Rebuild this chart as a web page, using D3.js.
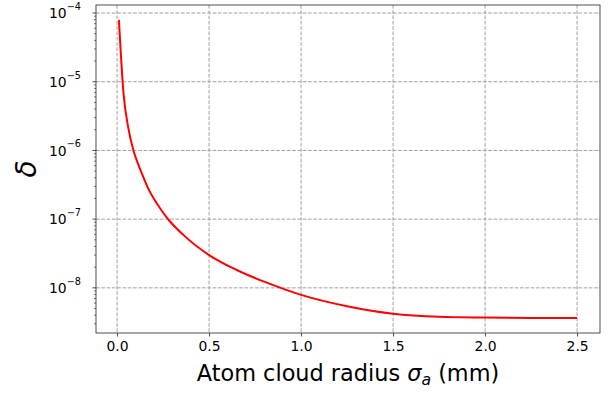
<!DOCTYPE html>
<html>
<head>
<meta charset="utf-8">
<script src="https://cdn.jsdelivr.net/npm/d3@7"></script>
<style>
  body { margin: 0; background: #fff; }
  text { font-family: "DejaVu Sans", sans-serif; fill: #000; }
</style>
</head>
<body>
<div id="chart"></div>
<script>
// curve: atom cloud radius (mm) vs delta
let sigma = [0.01, 0.035, 0.06, 0.089, 0.11, 0.138, 0.165, 0.2, 0.24, 0.28, 0.36, 0.5, 0.65, 0.8, 1.0, 1.25, 1.5, 1.75, 2.0, 2.25, 2.5];
let delta = [7.94e-5, 6.8e-6, 2.2e-6, 1.0e-6, 6.8e-7, 4.4e-7, 2.95e-7, 1.98e-7, 1.36e-7, 9.8e-8, 5.9e-8, 3.0e-8, 1.82e-8, 1.23e-8, 7.9e-9, 5.4e-9, 4.2e-9, 3.8e-9, 3.7e-9, 3.65e-9, 3.63e-9];
let xTicks = [0, 0.5, 1.0, 1.5, 2.0, 2.5];
let yExponents = [-8, -7, -6, -5, -4];

let W = 611, H = 393;
let margin = {top: 5, right: 11, bottom: 60, left: 96};
let width = W - margin.left - margin.right;
let height = H - margin.top - margin.bottom;

let svg = d3.select('#chart').append('svg')
  .attr('width', W).attr('height', H);
let g = svg.append('g')
  .attr('transform', `translate(${margin.left},${margin.top})`);

// matplotlib-like 5% margins
let xr = d3.extent(sigma), xpad = (xr[1] - xr[0]) * 0.05;
let x = d3.scaleLinear().domain([xr[0] - xpad, xr[1] + xpad]).range([0, width]);
let lr = d3.extent(delta).map(Math.log10), lpad = (lr[1] - lr[0]) * 0.05;
let y = d3.scaleLog().domain([Math.pow(10, lr[0] - lpad), Math.pow(10, lr[1] + lpad)]).range([height, 0]);

let gridColor = '#a0a0a0';
// grid
g.selectAll('.gx').data(xTicks).enter().append('line')
  .attr('x1', d => x(d)).attr('x2', d => x(d))
  .attr('y1', 0).attr('y2', height)
  .attr('stroke', gridColor).attr('stroke-width', 1).attr('stroke-dasharray', '3.7,1.6');
g.selectAll('.gy').data(yExponents).enter().append('line')
  .attr('x1', 0).attr('x2', width)
  .attr('y1', d => y(Math.pow(10, d))).attr('y2', d => y(Math.pow(10, d)))
  .attr('stroke', gridColor).attr('stroke-width', 1).attr('stroke-dasharray', '3.7,1.6');

// curve
let pts = sigma.map((s, i) => [s, delta[i]]);
let line = d3.line().x(d => x(d[0])).y(d => y(d[1])).curve(d3.curveMonotoneX);
g.append('path').datum(pts)
  .attr('d', line)
  .attr('fill', 'none').attr('stroke', '#ff0000').attr('stroke-width', 2);

// x axis
let xAxis = d3.axisBottom(x).tickValues(xTicks).tickFormat(d3.format('.1f')).tickSize(3.5).tickPadding(4.5);
let xg = g.append('g').attr('transform', `translate(0,${height})`).call(xAxis);
xg.select('.domain').remove();
xg.selectAll('line').attr('stroke', '#222').attr('stroke-width', 0.8);
xg.selectAll('text').style('font-size', '13.9px').style('font-family', '"DejaVu Sans", sans-serif').attr('fill', '#000');

// y axis: major ticks with superscript labels, minor ticks
let [y0, y1] = y.domain();
let minor = [];
for (let e = Math.floor(Math.log10(y0)); e <= Math.ceil(Math.log10(y1)); e++) {
  for (let m = 2; m <= 9; m++) {
    let v = m * Math.pow(10, e);
    if (v >= y0 && v <= y1) minor.push(v);
  }
}
let yg = g.append('g');
yg.selectAll('.minor').data(minor).enter().append('line')
  .attr('x1', -2).attr('x2', 0)
  .attr('y1', d => y(d)).attr('y2', d => y(d))
  .attr('stroke', '#222').attr('stroke-width', 0.6);
yg.selectAll('.major').data(yExponents).enter().append('line')
  .attr('x1', -3.5).attr('x2', 0)
  .attr('y1', d => y(Math.pow(10, d))).attr('y2', d => y(Math.pow(10, d)))
  .attr('stroke', '#222').attr('stroke-width', 0.8);
let lbl = yg.selectAll('.lbl').data(yExponents).enter().append('text')
  .attr('x', -15).attr('y', d => y(Math.pow(10, d)) + 5.3)
  .attr('text-anchor', 'end').style('font-size', '13.9px');
lbl.append('tspan').text('10');
lbl.append('tspan').attr('dy', -8.5).style('font-size', '9.7px').text(d => '\u2212' + Math.abs(d));

// frame
g.append('rect').attr('width', width).attr('height', height)
  .attr('fill', 'none').attr('stroke', '#222').attr('stroke-width', 0.8);

// labels
let xl = svg.append('text')
  .attr('x', margin.left + width / 2).attr('y', 381)
  .attr('text-anchor', 'middle').style('font-size', '22.4px');
xl.append('tspan').text('Atom cloud radius ');
xl.append('tspan').style('font-style', 'italic').text('\u03c3');
xl.append('tspan').style('font-style', 'italic').style('font-size', '15.7px').attr('dy', 4).text('a');
xl.append('tspan').attr('dy', -4).text(' (mm)');

svg.append('text')
  .attr('transform', `translate(36,${margin.top + height / 2}) rotate(-90)`)
  .attr('text-anchor', 'middle')
  .style('font-size', '28px').style('font-style', 'italic')
  .text('\u03b4');
</script>
</body>
</html>
